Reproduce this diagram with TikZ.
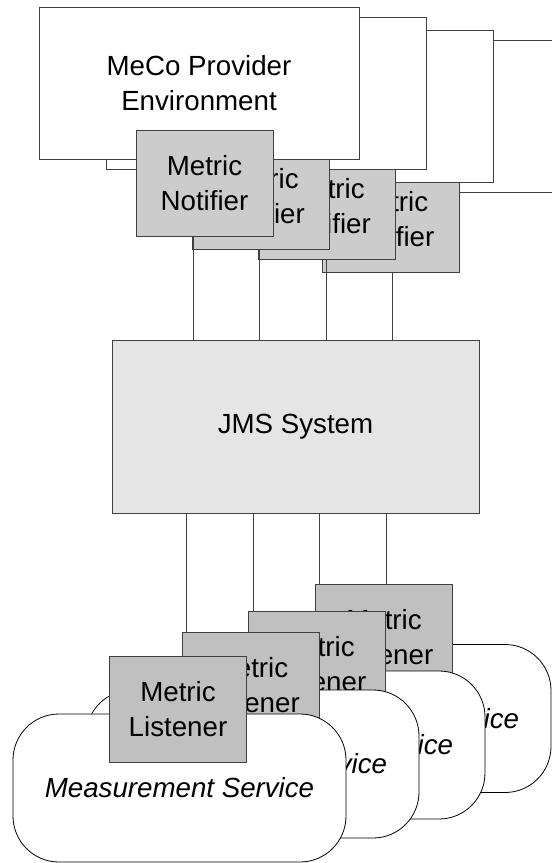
\documentclass[tikz,border=0pt]{standalone}
\usepackage{fontspec}
\setmainfont{Liberation Sans}
\usetikzlibrary{calc}
\definecolor{notifgray}{HTML}{CCCCCC}
\definecolor{listgray}{HTML}{C0C0C0}
\definecolor{jmsgray}{HTML}{E5E5E5}
\definecolor{edgegray}{HTML}{404040}
\newcommand\dfont{\fontsize{27.7}{34.3}\selectfont}
\tikzset{
  envbox/.style={draw=edgegray, line width=1pt, fill=white, minimum width=320pt, minimum height=152pt, inner sep=0pt, align=center, font=\dfont},
  notif/.style={draw=edgegray, line width=1pt, fill=notifgray, minimum width=137pt, minimum height=106pt, inner sep=0pt, align=center, font=\dfont},
  listener/.style={draw=edgegray, line width=1pt, fill=listgray, minimum width=137pt, minimum height=106pt, inner sep=0pt, align=center, font=\dfont},
  jmsbox/.style={draw=edgegray, line width=1pt, fill=jmsgray, minimum width=367pt, minimum height=173pt, inner sep=0pt, font=\dfont},
  msvc/.style={draw=black, line width=0.8pt, fill=white, rounded corners=46pt, minimum width=333pt, minimum height=148pt, inner sep=0pt, font=\dfont\itshape},
  conn/.style={draw=edgegray, line width=0.9pt}
}
\begin{document}
\begin{tikzpicture}[x=1pt,y=-1pt]
\useasboundingbox (0,0) rectangle (552,863);
\clip (0,0) rectangle (552,863);
\fill[white] (0,0) rectangle (552,863);

% JMS system
\node[jmsbox] (jms) at (295.5,426.5) {JMS System};

% provider groups, back to front
\node[envbox] (b4) at (400,116.5) {};
\node[notif] (n4) at (390.5,219) {Metric\\Notifier};
\coordinate (t4) at ($(n4.center)+(1.5,0)$);
\draw[conn] (t4 |- n4.south) -- (t4 |- jms.north);

\node[envbox] (b3) at (333,106.5) {};
\coordinate (t3) at ($(b3.center)+(-7,0)$);
\draw[conn] (t3 |- n4.north) -- (t3 |- jms.north);
\node[notif] (n3) at (327,206) {Metric\\Notifier};

\node[envbox] (b2) at (266,93) {};
\coordinate (t2) at ($(b2.center)+(-7,0)$);
\draw[conn] (t2 |- n3.north) -- (t2 |- jms.north);
\node[notif] (n2) at (261,196) {Metric\\Notifier};

\node[envbox] (b1) at (199,83) {MeCo Provider\\Environment};
\coordinate (t1) at ($(b1.center)+(-6,0)$);
\draw[conn] (t1 |- n2.north) -- (t1 |- jms.north);
\node[notif] (n1) at (204.5,183) {Metric\\Notifier};

% listener groups: connectors behind everything
\coordinate (c1) at (186,700);
\coordinate (c2) at (253,680);
\coordinate (c3) at (319,660);
\coordinate (c4) at (386,630);
\draw[conn] (c1 |- jms.south) -- (c1);
\draw[conn] (c2 |- jms.south) -- (c2);
\draw[conn] (c3 |- jms.south) -- (c3);
\draw[conn] (c4 |- jms.south) -- (c4);

\node[msvc] (m4) at (384.5,718.5) {Measurement Service};
\node[listener] (l4) at (384,637) {Metric\\Listener};
\node[msvc] (m3) at (318.5,745) {Measurement Service};
\node[listener] (l3) at (317,664) {Metric\\Listener};
\node[msvc] (m2) at (252.5,764) {Measurement Service};
\node[listener] (l2) at (250.5,685) {Metric\\Listener};
\node[msvc] (m1) at (179.5,788) {Measurement Service};
\node[listener] (l1) at (178,709) {Metric\\Listener};
\end{tikzpicture}
\end{document}
